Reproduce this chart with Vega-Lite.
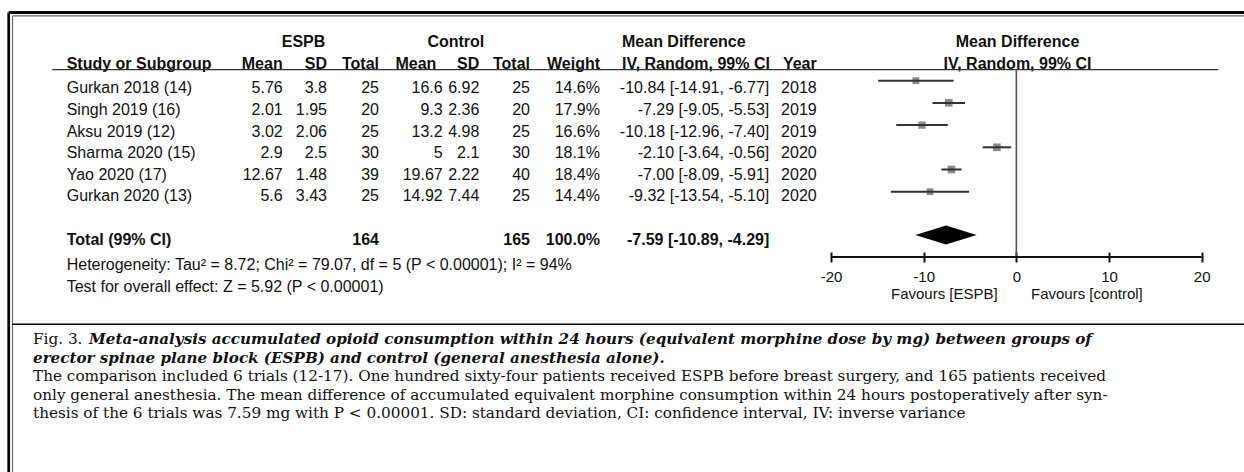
{
  "$schema": "https://vega.github.io/schema/vega-lite/v6.json",
  "width": 1244,
  "height": 252,
  "autosize": "none",
  "padding": {"left": 0, "top": 0, "right": 0, "bottom": 220},
  "background": "white",
  "config": {"view": {"stroke": null}},
  "datasets": {
    "cells": [
      {"r": -1, "c": 2.47, "t": "ESPB", "part": "group"},
      {"r": -1, "c": 5.36, "t": "Control", "part": "group"},
      {"r": -1, "c": 8.13, "t": "Mean Difference", "part": "mdhead"},
      {"r": -1, "c": 10.47, "t": "Mean Difference", "part": "group"},
      {"r": 0, "c": 1, "t": "Study or Subgroup", "part": "head"},
      {"r": 0, "c": 2, "t": "Mean", "part": "head"},
      {"r": 0, "c": 3, "t": "SD", "part": "head"},
      {"r": 0, "c": 4, "t": "Total", "part": "head"},
      {"r": 0, "c": 4.9, "t": "Mean", "part": "head"},
      {"r": 0, "c": 6, "t": "SD", "part": "head"},
      {"r": 0, "c": 7, "t": "Total", "part": "head"},
      {"r": 0, "c": 8, "t": "Weight", "part": "head"},
      {"r": 0, "c": 8.13, "t": "IV, Random, 99% CI", "part": "mdhead"},
      {"r": 0, "c": 10, "t": "Year", "part": "head"},
      {"r": 0, "c": 10.47, "t": "IV, Random, 99% CI", "part": "group"},
      {"r": 1, "c": 1, "t": "Gurkan 2018 (14)", "part": "body"},
      {"r": 1, "c": 2, "t": "5.76", "part": "body"},
      {"r": 1, "c": 3, "t": "3.8", "part": "body"},
      {"r": 1, "c": 4, "t": "25", "part": "body"},
      {"r": 1, "c": 5, "t": "16.6", "part": "body"},
      {"r": 1, "c": 6, "t": "6.92", "part": "body"},
      {"r": 1, "c": 7, "t": "25", "part": "body"},
      {"r": 1, "c": 8, "t": "14.6%", "part": "body"},
      {"r": 1, "c": 9, "t": "-10.84 [-14.91, -6.77]", "part": "body"},
      {"r": 1, "c": 10, "t": "2018", "part": "body"},
      {"r": 2, "c": 1, "t": "Singh 2019 (16)", "part": "body"},
      {"r": 2, "c": 2, "t": "2.01", "part": "body"},
      {"r": 2, "c": 3, "t": "1.95", "part": "body"},
      {"r": 2, "c": 4, "t": "20", "part": "body"},
      {"r": 2, "c": 5, "t": "9.3", "part": "body"},
      {"r": 2, "c": 6, "t": "2.36", "part": "body"},
      {"r": 2, "c": 7, "t": "20", "part": "body"},
      {"r": 2, "c": 8, "t": "17.9%", "part": "body"},
      {"r": 2, "c": 9, "t": "-7.29 [-9.05, -5.53]", "part": "body"},
      {"r": 2, "c": 10, "t": "2019", "part": "body"},
      {"r": 3, "c": 1, "t": "Aksu 2019 (12)", "part": "body"},
      {"r": 3, "c": 2, "t": "3.02", "part": "body"},
      {"r": 3, "c": 3, "t": "2.06", "part": "body"},
      {"r": 3, "c": 4, "t": "25", "part": "body"},
      {"r": 3, "c": 5, "t": "13.2", "part": "body"},
      {"r": 3, "c": 6, "t": "4.98", "part": "body"},
      {"r": 3, "c": 7, "t": "25", "part": "body"},
      {"r": 3, "c": 8, "t": "16.6%", "part": "body"},
      {"r": 3, "c": 9, "t": "-10.18 [-12.96, -7.40]", "part": "body"},
      {"r": 3, "c": 10, "t": "2019", "part": "body"},
      {"r": 4, "c": 1, "t": "Sharma 2020 (15)", "part": "body"},
      {"r": 4, "c": 2, "t": "2.9", "part": "body"},
      {"r": 4, "c": 3, "t": "2.5", "part": "body"},
      {"r": 4, "c": 4, "t": "30", "part": "body"},
      {"r": 4, "c": 5, "t": "5", "part": "body"},
      {"r": 4, "c": 6, "t": "2.1", "part": "body"},
      {"r": 4, "c": 7, "t": "30", "part": "body"},
      {"r": 4, "c": 8, "t": "18.1%", "part": "body"},
      {"r": 4, "c": 9, "t": "-2.10 [-3.64, -0.56]", "part": "body"},
      {"r": 4, "c": 10, "t": "2020", "part": "body"},
      {"r": 5, "c": 1, "t": "Yao 2020 (17)", "part": "body"},
      {"r": 5, "c": 2, "t": "12.67", "part": "body"},
      {"r": 5, "c": 3, "t": "1.48", "part": "body"},
      {"r": 5, "c": 4, "t": "39", "part": "body"},
      {"r": 5, "c": 5, "t": "19.67", "part": "body"},
      {"r": 5, "c": 6, "t": "2.22", "part": "body"},
      {"r": 5, "c": 7, "t": "40", "part": "body"},
      {"r": 5, "c": 8, "t": "18.4%", "part": "body"},
      {"r": 5, "c": 9, "t": "-7.00 [-8.09, -5.91]", "part": "body"},
      {"r": 5, "c": 10, "t": "2020", "part": "body"},
      {"r": 6, "c": 1, "t": "Gurkan 2020 (13)", "part": "body"},
      {"r": 6, "c": 2, "t": "5.6", "part": "body"},
      {"r": 6, "c": 3, "t": "3.43", "part": "body"},
      {"r": 6, "c": 4, "t": "25", "part": "body"},
      {"r": 6, "c": 5, "t": "14.92", "part": "body"},
      {"r": 6, "c": 6, "t": "7.44", "part": "body"},
      {"r": 6, "c": 7, "t": "25", "part": "body"},
      {"r": 6, "c": 8, "t": "14.4%", "part": "body"},
      {"r": 6, "c": 9, "t": "-9.32 [-13.54, -5.10]", "part": "body"},
      {"r": 6, "c": 10, "t": "2020", "part": "body"},
      {"r": 8, "c": 1, "t": "Total (99% CI)", "part": "total"},
      {"r": 8, "c": 4, "t": "164", "part": "total"},
      {"r": 8, "c": 7, "t": "165", "part": "total"},
      {"r": 8, "c": 8, "t": "100.0%", "part": "total"},
      {"r": 8, "c": 9, "t": "-7.59 [-10.89, -4.29]", "part": "total"},
      {"r": 9, "c": 1, "t": "Heterogeneity: Tau² = 8.72; Chi² = 79.07, df = 5 (P < 0.00001); I² = 94%", "part": "note"},
      {"r": 10, "c": 1, "t": "Test for overall effect: Z = 5.92 (P < 0.00001)", "part": "note"}
    ],
    "forest": [
      {"r": 1, "study": "Gurkan 2018", "md": -10.84, "lo": -14.91, "hi": -6.77, "w": 14.6},
      {"r": 2, "study": "Singh 2019", "md": -7.29, "lo": -9.05, "hi": -5.53, "w": 17.9},
      {"r": 3, "study": "Aksu 2019", "md": -10.18, "lo": -12.96, "hi": -7.40, "w": 16.6},
      {"r": 4, "study": "Sharma 2020", "md": -2.10, "lo": -3.64, "hi": -0.56, "w": 18.1},
      {"r": 5, "study": "Yao 2020", "md": -7.00, "lo": -8.09, "hi": -5.91, "w": 18.4},
      {"r": 6, "study": "Gurkan 2020", "md": -9.32, "lo": -13.54, "hi": -5.10, "w": 14.4}
    ],
    "caption": [
      {"ln": 1, "k": 0, "t": "Fig. 3.", "part": "fig"},
      {"ln": 1, "k": 1, "t": "Meta-analysis accumulated opioid consumption within 24 hours (equivalent morphine dose by mg) between groups of", "part": "title"},
      {"ln": 2, "k": 0, "t": "erector spinae plane block (ESPB) and control (general anesthesia alone).", "part": "title"},
      {"ln": 3, "k": 0, "t": "The comparison included 6 trials (12-17). One hundred sixty-four patients received ESPB before breast surgery, and 165 patients received", "part": "text"},
      {"ln": 4, "k": 0, "t": "only general anesthesia. The mean difference of accumulated equivalent morphine consumption within 24 hours postoperatively after syn-", "part": "text"},
      {"ln": 5, "k": 0, "t": "thesis of the 6 trials was 7.59 mg with P < 0.00001. SD: standard deviation, CI: confidence interval, IV: inverse variance", "part": "text"}
    ]
  },
  "layer": [
    {
      "data": {"name": "cells"},
      "layer": [
        {"transform": [{"filter": "datum.c == 1 && (datum.part == 'body' || datum.part == 'note')"}],
         "mark": {"type": "text", "align": "left", "baseline": "middle", "font": "Liberation Sans", "fontSize": 16, "color": "#111"},
         "encoding": {
           "x": {"field": "c", "type": "quantitative", "axis": null,
                 "scale": {"domain": [0, 1, 2, 3, 4, 5, 6, 7, 8, 9, 10, 11],
                           "range": [8.7, 66.7, 282.7, 327, 379, 442.7, 479.3, 530, 600, 769.3, 816.7, 1244],
                           "nice": false, "zero": false}},
           "y": {"field": "r", "type": "quantitative", "axis": null,
                 "scale": {"domain": [-2, -1, 0, 1, 6, 8, 9, 10, 11],
                           "range": [12.5, 41.7, 64, 88.3, 196.3, 239.7, 265, 287, 324.3],
                           "nice": false, "zero": false}},
           "text": {"field": "t", "type": "nominal"}}},
        {"transform": [{"filter": "(datum.c == 1 && (datum.part == 'head' || datum.part == 'total')) || datum.part == 'mdhead'"}],
         "mark": {"type": "text", "align": "left", "baseline": "middle", "font": "Liberation Sans", "fontSize": 16, "fontWeight": "bold", "color": "#111"},
         "encoding": {"x": {"field": "c", "type": "quantitative", "axis": null},
                      "y": {"field": "r", "type": "quantitative", "axis": null},
                      "text": {"field": "t", "type": "nominal"}}},
        {"transform": [{"filter": "datum.part == 'body' && datum.c > 1"}],
         "mark": {"type": "text", "align": "right", "baseline": "middle", "font": "Liberation Sans", "fontSize": 16, "color": "#111"},
         "encoding": {"x": {"field": "c", "type": "quantitative", "axis": null},
                      "y": {"field": "r", "type": "quantitative", "axis": null},
                      "text": {"field": "t", "type": "nominal"}}},
        {"transform": [{"filter": "datum.c > 1 && (datum.part == 'head' || datum.part == 'total')"}],
         "mark": {"type": "text", "align": "right", "baseline": "middle", "font": "Liberation Sans", "fontSize": 16, "fontWeight": "bold", "color": "#111"},
         "encoding": {"x": {"field": "c", "type": "quantitative", "axis": null},
                      "y": {"field": "r", "type": "quantitative", "axis": null},
                      "text": {"field": "t", "type": "nominal"}}},
        {"transform": [{"filter": "datum.part == 'group'"}],
         "mark": {"type": "text", "align": "center", "baseline": "middle", "font": "Liberation Sans", "fontSize": 16, "fontWeight": "bold", "color": "#111"},
         "encoding": {"x": {"field": "c", "type": "quantitative", "axis": null},
                      "y": {"field": "r", "type": "quantitative", "axis": null},
                      "text": {"field": "t", "type": "nominal"}}},
        {"data": {"values": [{}]},
         "mark": {"type": "rule", "color": "#333", "strokeWidth": 1.4},
         "encoding": {"x": {"datum": 0.75, "axis": null}, "x2": {"datum": 10.94}, "y": {"datum": 0.23, "axis": null}}},
        {"data": {"values": [{}]},
         "mark": {"type": "rule", "color": "#000", "strokeWidth": 2.7},
         "encoding": {"x": {"datum": 0, "axis": null}, "y": {"datum": -2, "axis": null}, "y2": {"datum": 15}}},
        {"data": {"values": [{}]},
         "mark": {"type": "rule", "color": "#000", "strokeWidth": 3},
         "encoding": {"x": {"datum": 0, "axis": null}, "x2": {"datum": 11}, "y": {"datum": -2, "axis": null}}},
        {"data": {"values": [{}]},
         "mark": {"type": "rule", "color": "#666", "strokeWidth": 1.2, "xOffset": 3.8, "yOffset": 3.3},
         "encoding": {"x": {"datum": 0, "axis": null}, "y": {"datum": -2, "axis": null}, "y2": {"datum": 15}}},
        {"data": {"values": [{}]},
         "mark": {"type": "rule", "color": "#666", "strokeWidth": 1.3, "xOffset": 3.8, "yOffset": 3.3},
         "encoding": {"x": {"datum": 0, "axis": null}, "x2": {"datum": 11}, "y": {"datum": -2, "axis": null}}},
        {"data": {"values": [{}]},
         "mark": {"type": "rule", "color": "#000", "strokeWidth": 1.6, "xOffset": 3.8},
         "encoding": {"x": {"datum": 0, "axis": null}, "x2": {"datum": 11}, "y": {"datum": 11, "axis": null}}}
      ]
    },
    {
      "data": {"name": "forest"},
      "layer": [
        {"mark": {"type": "point", "shape": "square", "filled": true, "color": "#8a8a8a", "opacity": 1},
         "encoding": {
           "x": {"field": "md", "type": "quantitative",
                 "scale": {"domain": [-20, 20], "range": [831, 1201.7], "nice": false, "zero": false},
                 "axis": {"orient": "bottom", "domain": false, "grid": false,
                          "values": [-20, -10, 0, 10, 20], "tickSize": 10, "tickWidth": 2, "tickColor": "#111",
                          "labelExpr": "'' + datum.value",
                          "labelFont": "Liberation Sans", "labelFontSize": 15, "labelColor": "#111", "labelPadding": 7,
                          "labelFlush": false, "labelOverlap": false,
                          "title": "Favours [ESPB]\u00a0\u00a0\u00a0\u00a0\u00a0\u00a0\u00a0\u00a0Favours [control]",
                          "titleFont": "Liberation Sans", "titleFontSize": 15, "titleFontWeight": "normal",
                          "titleColor": "#111", "titlePadding": 2}},
           "y": {"field": "r", "type": "quantitative", "axis": null,
                 "scale": {"domain": [0, 1, 6, 8, 9], "range": [69.5, 80.7, 191.7, 235, 257], "nice": false, "zero": false}},
           "size": {"field": "w", "type": "quantitative", "legend": null,
                    "scale": {"domain": [0, 20], "range": [0, 64]}}}},
        {"mark": {"type": "rule", "color": "#333", "strokeWidth": 2},
         "encoding": {"x": {"field": "lo", "type": "quantitative"}, "x2": {"field": "hi"},
                      "y": {"field": "r", "type": "quantitative", "axis": null}}},
        {"data": {"values": [{}]},
         "mark": {"type": "rule", "color": "#555", "strokeWidth": 1.6},
         "encoding": {"x": {"datum": 0}, "y": {"datum": 0, "axis": null}, "y2": {"datum": 9}}},
        {"data": {"values": [{}]},
         "mark": {"type": "rule", "color": "#111", "strokeWidth": 2},
         "encoding": {"x": {"datum": -20}, "x2": {"datum": 20}, "y": {"datum": 9, "axis": null}}},
        {"data": {"values": [{"r": 8, "md": -7.59, "lo": -10.89, "hi": -4.29}]},
         "mark": {"type": "point", "shape": "M-1,0L0,-0.31L1,0L0,0.31Z", "filled": true, "color": "#000", "opacity": 1, "size": 3745},
         "encoding": {"x": {"field": "md", "type": "quantitative"},
                      "y": {"field": "r", "type": "quantitative", "axis": null}}}
      ]
    },
    {
      "data": {"name": "caption"},
      "layer": [
        {"transform": [{"filter": "datum.part != 'title'"}],
         "mark": {"type": "text", "align": "left", "baseline": "middle", "font": "DejaVu Serif", "fontSize": 15.25, "color": "#111"},
         "encoding": {
           "x": {"field": "k", "type": "quantitative", "axis": null,
                 "scale": {"domain": [0, 1], "range": [33, 89], "nice": false, "zero": false}},
           "y": {"field": "ln", "type": "quantitative", "axis": null,
                 "scale": {"domain": [1, 5], "range": [339, 413], "nice": false, "zero": false}},
           "text": {"field": "t", "type": "nominal"}}},
        {"transform": [{"filter": "datum.part == 'title'"}],
         "mark": {"type": "text", "align": "left", "baseline": "middle", "font": "DejaVu Serif", "fontSize": 15.15, "fontWeight": "bold", "fontStyle": "italic", "color": "#111"},
         "encoding": {"x": {"field": "k", "type": "quantitative", "axis": null},
                      "y": {"field": "ln", "type": "quantitative", "axis": null},
                      "text": {"field": "t", "type": "nominal"}}}
      ]
    }
  ],
  "resolve": {"scale": {"x": "independent", "y": "independent", "size": "independent"},
              "axis": {"x": "independent", "y": "independent"}}
}
